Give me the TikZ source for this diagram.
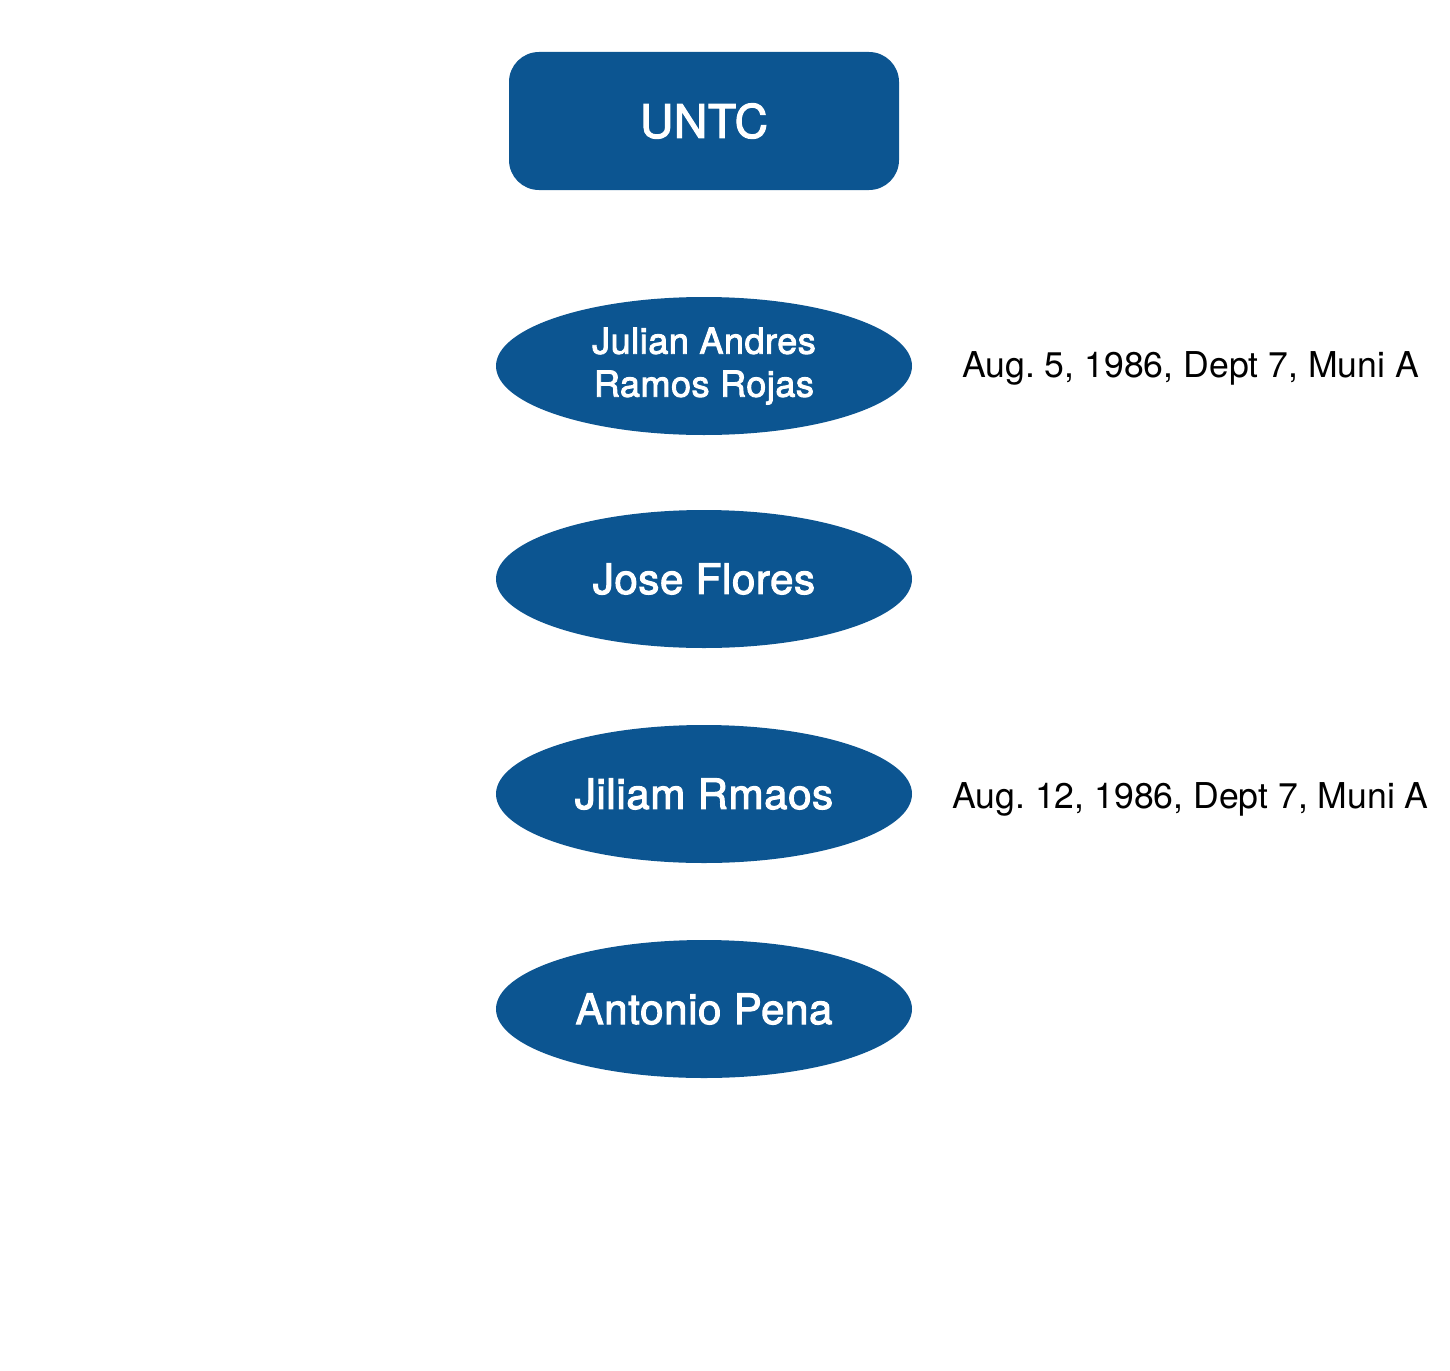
\documentclass[tikz,border=0pt]{standalone}
\usepackage{fontspec}
\setmainfont{TeX Gyre Heros}
\newfontfamily\medfont[FakeBold=2.5,LetterSpace=1.5]{TeX Gyre Heros}
\usetikzlibrary{shapes.geometric}
\definecolor{nodeblue}{HTML}{0C5591}
\frenchspacing
\begin{document}
\begin{tikzpicture}[x=0.5pt,y=-0.5pt,
  person/.style={ellipse,fill=nodeblue,draw=none,minimum width=208pt,minimum height=69pt,inner sep=0pt,text=white,font=\medfont\fontsize{21pt}{24pt}\selectfont,align=center},
  topbox/.style={rectangle,rounded corners=15pt,fill=nodeblue,draw=none,minimum width=195pt,minimum height=69pt,inner sep=0pt,text=white,font=\medfont\fontsize{23pt}{27pt}\selectfont},
  datelabel/.style={anchor=base,inner sep=0pt,font=\fontsize{17.8pt}{21pt}\selectfont}]
\useasboundingbox (0,0) rectangle (1450,1370);
\node[topbox] (untc) at (704,121) {UNTC};
\node[person,font=\medfont\fontsize{18pt}{21.5pt}\selectfont] (julian) at (704,366) {Julian Andres\\Ramos Rojas};
\node[person] (jose) at (704,579) {Jose Flores};
\node[person] (jiliam) at (704,794) {Jiliam Rmaos};
\node[person] (antonio) at (704,1009) {Antonio Pena};
\node[datelabel] (date1) at (1190.5,377) {Aug. 5, 1986, Dept 7, Muni A};
\node[datelabel] (date2) at (1190.5,808) {Aug. 12, 1986, Dept 7, Muni A};
\end{tikzpicture}
\end{document}
